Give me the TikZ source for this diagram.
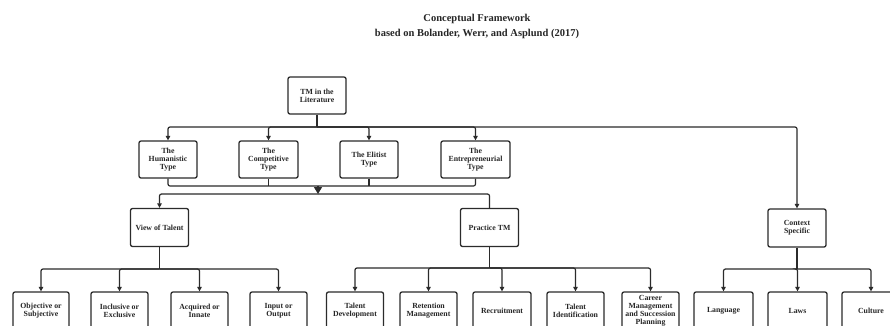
\documentclass[tikz,border=0pt]{standalone}
\usepackage{fontspec}
\setmainfont{Liberation Serif}
\usetikzlibrary{arrows.meta}
\definecolor{ln}{HTML}{2B2B2B}
\tikzset{
  box/.style={draw=ln, line width=1.3pt, rounded corners=2pt, fill=white,
    minimum width=58pt, minimum height=37pt, inner sep=0.5pt, align=center,
    font=\fontsize{7.8}{8.1}\selectfont\bfseries, text=black!85},
  conn/.style={draw=ln, line width=1.2pt, rounded corners=2pt},
  arr/.style={conn, -{Triangle[length=4.5pt,width=4.5pt]}},
  bigarr/.style={draw=ln, line width=1.2pt, -{Triangle[length=7pt,width=8pt]}},
  ttl/.style={align=center, font=\fontsize{10.5}{15}\selectfont\bfseries, text=black!85}
}
\begin{document}
\begin{tikzpicture}[x=1pt,y=-1pt]
\useasboundingbox (0,0) rectangle (890,325);
\clip (0,0) rectangle (890,325);
\fill[white] (0,0) rectangle (890,325);

\node[ttl] (title) at (477,26) {Conceptual Framework\\based on Bolander, Werr, and Asplund (2017)};

\node[box] (tm) at (317,95.5) {TM in the\\Literature};

\node[box] (hum) at (168,159.5) {The\\Humanistic\\Type};
\node[box, minimum width=59pt] (comp) at (268.5,159.5) {The\\Competitive\\Type};
\node[box] (elit) at (369,159.5) {The Elitist\\Type};
\node[box, minimum width=69pt] (entr) at (475.5,159.5) {The\\Entrepreneurial\\Type};

\node[box, minimum height=38pt] (vot) at (159.5,227.5) {View of Talent};
\node[box, minimum height=38pt] (ptm) at (489.5,227.5) {Practice TM};
\node[box, minimum height=38pt] (ctx) at (797,228) {Context\\Specific};

\node[box, minimum width=56pt] (obj) at (41,310.5) {Objective or\\Subjective};
\node[box, minimum width=57pt] (incl) at (119.5,310.5) {Inclusive or\\Exclusive};
\node[box, minimum width=57pt] (acq) at (199.5,310.5) {Acquired or\\Innate};
\node[box, minimum width=57pt] (inp) at (278.5,310.5) {Input or\\Output};

\node[box, minimum width=57pt] (td) at (355,310.5) {Talent\\Development};
\node[box, minimum width=57pt] (ret) at (428.5,310.5) {Retention\\Management};
\node[box, minimum width=58pt] (rec) at (502,310.5) {Recruitment};
\node[box, minimum width=57pt] (tid) at (575.5,310.5) {Talent\\Identification};
\node[box, minimum width=57pt] (car) at (650.5,310.5) {Career\\Management\\and Succession\\Planning};

\node[box, minimum width=59pt] (lang) at (723.5,310.5) {Language};
\node[box, minimum width=59pt] (laws) at (797.5,310.5) {Laws};
\node[box, minimum width=58pt] (cult) at (871,310.5) {Culture};

% top level
\coordinate (t1) at (317,127);
\draw[conn] (tm.south) -- (t1);
\draw[arr] (t1) -| (hum.north);
\draw[arr] (t1) -| (comp.north);
\draw[arr] (t1) -| (elit.north);
\draw[arr] (t1) -| (entr.north);
\draw[arr] (t1) -| (ctx.north);

% merge of types
\coordinate (m1) at (318,186);
\coordinate (m2) at (318,194);
\draw[conn] (hum.south) |- (m1);
\draw[conn] (entr.south) |- (m1);
\draw[conn] (comp.south) -- (comp.south |- m1);
\draw[conn] (elit.south) -- (elit.south |- m1);
\draw[bigarr] (m1) -- (m2);
\draw[arr] (m2) -| (vot.north);
\draw[conn] (m2) -| (ptm.north);

% view of talent
\coordinate (v1) at (159.5,269);
\draw[conn] (vot.south) -- (v1);
\draw[arr] (v1) -| (obj.north);
\draw[arr] (v1) -| (incl.north);
\draw[arr] (v1) -| (acq.north);
\draw[arr] (v1) -| (inp.north);

% practice TM
\coordinate (p1) at (489.5,268);
\draw[conn] (ptm.south) -- (p1);
\draw[arr] (p1) -| (td.north);
\draw[arr] (p1) -| (ret.north);
\draw[arr] (p1) -| (rec.north);
\draw[arr] (p1) -| (tid.north);
\draw[arr] (p1) -| (car.north);

% context
\coordinate (c1) at (797,269);
\draw[conn] (ctx.south) -- (c1);
\draw[arr] (c1) -| (lang.north);
\draw[arr] (c1) -| (laws.north);
\draw[arr] (c1) -| (cult.north);
\end{tikzpicture}
\end{document}
